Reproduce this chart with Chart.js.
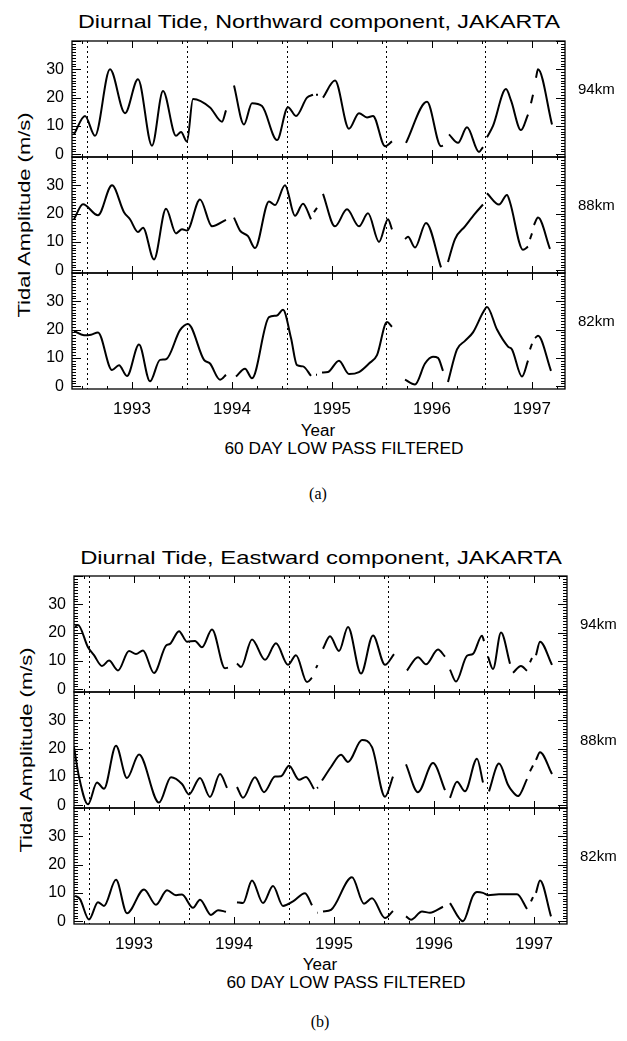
<!DOCTYPE html>
<html>
<head>
<meta charset="utf-8">
<script src="https://cdn.jsdelivr.net/npm/chart.js@4.4.0/dist/chart.umd.min.js"></script>
<style>
body { margin: 0; background: #fff; width: 627px; height: 1041px; position: relative; overflow: hidden;
       font-family: "Liberation Sans", Arial, sans-serif; color: #000; }
.t { position: absolute; white-space: nowrap; line-height: 1; }
canvas { position: absolute; }
</style>
</head>
<body>

<div class="t fit" data-x="319" data-y="21" data-w="482" style="font-size:19px">Diurnal Tide, Northward component, JAKARTA</div>
<div class="t fit rot" data-x="24" data-y="215" data-w="205" style="font-size:17px">Tidal Amplitude (m/s)</div>
<div class="t fit" data-x="318" data-y="431" data-w="34" style="font-size:16px">Year</div>
<div class="t fit" data-x="344" data-y="449" data-w="239" style="font-size:16px">60 DAY LOW PASS FILTERED</div>
<div class="t" data-x="318" data-y="494" style="font-size:16px;font-family:'Liberation Serif',serif">(a)</div>

<div class="t fit" data-x="321" data-y="557" data-w="482" style="font-size:19px">Diurnal Tide, Eastward component, JAKARTA</div>
<div class="t fit rot" data-x="26" data-y="750" data-w="205" style="font-size:17px">Tidal Amplitude (m/s)</div>
<div class="t fit" data-x="320" data-y="965" data-w="34" style="font-size:16px">Year</div>
<div class="t fit" data-x="346" data-y="983" data-w="239" style="font-size:16px">60 DAY LOW PASS FILTERED</div>
<div class="t" data-x="320" data-y="1022" style="font-size:16px;font-family:'Liberation Serif',serif">(b)</div>

<canvas id="n94"></canvas>
<canvas id="n88"></canvas>
<canvas id="n82"></canvas>
<canvas id="e94"></canvas>
<canvas id="e88"></canvas>
<canvas id="e82"></canvas>

<script>
// axis ranges and ticks
const xMin = 1992.40, xMax = 1997.33;
const yMin = -1, yMax = 40;
const yearTicks = [1993, 1994, 1995, 1996, 1997];
const ampTicks = [0, 10, 20, 30];
const markerYears = [1992.55, 1993.55, 1994.545, 1995.54, 1996.53];
const heightLabels = ['94km', '88km', '82km'];

// [year, amplitude m/s], null = data gap
const north94 = [[1992.42,7],[1992.53,13.5],[1992.63,6.5],[1992.78,30],[1992.93,14.5],[1993.06,26.5],[1993.2,3],
  [1993.31,22.3],[1993.44,6.5],[1993.49,7.8],[1993.55,4.5],[1993.61,19.5],[1993.78,16.5],[1993.9,11.5],[1993.94,15.5],null,
  [1994.02,24.3],[1994.12,10.5],[1994.2,18],[1994.3,17],[1994.45,5],[1994.56,16.6],[1994.64,13.5],[1994.75,20],[1994.81,21],null,
  [1994.84,21],[1994.86,21],null,
  [1994.91,20],[1995.03,26],[1995.17,9],[1995.27,14.5],[1995.35,13],[1995.41,13.5],[1995.53,2.8],[1995.6,4.5],null,
  [1995.74,4],[1995.95,18.5],[1996.09,2.8],[1996.11,3],null,
  [1996.17,7],[1996.26,4],[1996.35,9.5],[1996.47,0.8],[1996.51,2.5],null,
  [1996.55,6],[1996.61,10],[1996.74,23],[1996.79,19],[1996.89,8.5],[1996.96,14],null,
  [1996.99,18],[1997.01,21],null,
  [1997.04,27],[1997.06,30],[1997.2,10.5]];

const north88 = [[1992.42,18],[1992.51,23.3],[1992.66,19.4],[1992.8,30],[1992.92,20.5],[1992.98,18],[1993.06,13.5],
  [1993.11,15],[1993.22,3.8],[1993.34,21.7],[1993.44,13],[1993.5,14.5],[1993.55,14],[1993.68,25],[1993.8,15.5],[1993.94,17.8],null,
  [1994.02,18.6],[1994.08,14],[1994.16,12],[1994.23,7.8],[1994.37,24.3],[1994.43,23],[1994.53,30],[1994.63,19.2],[1994.71,23.5],[1994.79,18],null,
  [1994.82,20.5],[1994.85,22],null,
  [1994.91,27],[1995.03,15.5],[1995.15,21.5],[1995.27,15.5],[1995.36,20.1],[1995.47,10],[1995.56,18],[1995.6,14.4],null,
  [1995.73,11],[1995.76,11.8],[1995.83,8],[1995.94,16.7],[1996.09,1],null,
  [1996.16,2.9],[1996.23,11],[1996.33,15.5],[1996.43,20],[1996.51,23.2],null,
  [1996.55,27.2],[1996.67,23.2],[1996.75,26.6],[1996.78,24],[1996.91,7.2],[1996.96,8.3],null,
  [1996.98,11],[1997.0,13],null,
  [1997.02,16],[1997.06,18.6],[1997.18,7.5]];

const north82 = [[1992.42,19.5],[1992.52,18],[1992.59,18.2],[1992.66,19],[1992.8,5.7],[1992.87,7.4],[1992.95,3.6],
  [1993.07,14.7],[1993.18,1.7],[1993.28,9.3],[1993.34,9.5],[1993.48,19.8],[1993.56,22],[1993.72,9.3],[1993.78,8],[1993.88,2.3],[1993.94,4],null,
  [1994.04,3.4],[1994.13,6.2],[1994.2,2.8],[1994.37,24.4],[1994.45,25],[1994.51,27],[1994.59,17],[1994.65,7.4],[1994.71,7],[1994.79,3.6],null,
  [1994.84,4],[1994.85,4],null,
  [1994.9,4.8],[1994.96,5],[1995.07,9],[1995.17,4.3],[1995.27,5],[1995.37,8],[1995.45,11],[1995.55,22.7],[1995.6,21],null,
  [1995.73,2.3],[1995.83,0.6],[1995.93,8],[1996.01,10.4],[1996.06,10],[1996.11,5.4],null,
  [1996.16,1.5],[1996.25,13],[1996.33,16],[1996.41,19],[1996.51,26],[1996.55,28],[1996.65,20],[1996.76,14],[1996.8,13],[1996.9,3.4],[1996.96,9],null,
  [1996.98,13],[1997.0,15],null,
  [1997.03,17],[1997.06,17.8],[1997.19,5.4]];

const east94 = [[1992.41,22],[1992.44,22.7],[1992.54,14.8],[1992.6,12],[1992.68,8.2],[1992.75,10.1],[1992.84,6.6],
  [1992.95,13.5],[1993.02,12.4],[1993.09,13.7],[1993.2,5.7],[1993.32,15.4],[1993.36,16],[1993.45,20.5],[1993.53,16.8],
  [1993.61,17],[1993.68,14.8],[1993.78,21.1],[1993.91,7.4],[1993.94,7.6],null,
  [1994.03,9.1],[1994.07,7.8],[1994.18,17.6],[1994.31,10.4],[1994.42,16.2],[1994.54,8.6],[1994.62,12],[1994.73,2.5],[1994.78,4],null,
  [1994.82,7.5],[1994.835,8.5],null,
  [1994.89,14.3],[1994.96,18.7],[1995.05,13.5],[1995.14,22],[1995.27,5.5],[1995.39,19],[1995.51,8.6],[1995.6,12.4],null,
  [1995.73,6.6],[1995.84,11.3],[1995.92,8.8],[1996.04,14],[1996.11,11.5],null,
  [1996.16,6.9],[1996.22,2.7],[1996.33,11.8],[1996.39,12.5],[1996.48,18.9],[1996.5,17],null,
  [1996.54,11.5],[1996.59,7.1],[1996.67,20],[1996.76,9],null,
  [1996.79,5.8],[1996.87,8.2],[1996.93,6.5],null,
  [1996.96,9.5],[1996.98,11],null,
  [1997.02,12],[1997.06,16.8],[1997.18,8.6]];

const east88 = [[1992.4,20.5],[1992.45,10],[1992.54,0.3],[1992.63,8],[1992.7,5.8],[1992.82,21],[1992.93,9.6],
  [1993.05,17.9],[1993.25,0.9],[1993.37,9.9],[1993.48,7.5],[1993.55,3.8],[1993.66,9.6],[1993.76,2.9],[1993.86,11],[1993.93,6.1],null,
  [1994.03,6.4],[1994.09,2.6],[1994.21,9.9],[1994.3,4.6],[1994.41,10.1],[1994.47,10.2],[1994.55,13.9],[1994.65,9],[1994.72,10],[1994.8,5.7],null,
  [1994.83,6],[1994.84,6.3],null,
  [1994.88,8.7],[1994.97,13.5],[1995.07,17.8],[1995.14,15.3],[1995.28,23],[1995.38,20.5],[1995.51,3],[1995.59,10.1],null,
  [1995.72,14.4],[1995.84,4.6],[1995.99,14.9],[1996.11,5.3],null,
  [1996.16,2.6],[1996.23,8.3],[1996.31,4.9],[1996.43,16.4],[1996.49,8],null,
  [1996.55,4.9],[1996.65,14.7],[1996.74,7.2],[1996.77,5.5],[1996.84,3.2],[1996.93,9.2],null,
  [1996.96,12],[1996.99,14],null,
  [1997.02,16],[1997.06,18.7],[1997.18,11]];

const east82 = [[1992.41,9],[1992.46,7.8],[1992.55,0.6],[1992.64,6.7],[1992.7,5.4],[1992.82,14.6],[1992.93,2.8],
  [1993.1,11.2],[1993.22,5.8],[1993.33,10.9],[1993.42,9.2],[1993.48,9.4],[1993.59,4.7],[1993.66,7.6],[1993.77,2.2],[1993.84,3.9],[1993.92,3.3],null,
  [1994.03,6.7],[1994.09,6.4],[1994.18,14.4],[1994.29,6.4],[1994.39,12.4],[1994.49,5.4],[1994.59,7],[1994.71,9.9],[1994.78,5.6],null,
  [1994.83,3],[1994.835,3],null,
  [1994.89,3.4],[1994.97,4],[1995.18,15.5],[1995.3,6.2],[1995.38,8.1],[1995.51,1.1],[1995.59,3.6],null,
  [1995.72,1.7],[1995.77,0.5],[1995.88,3.4],[1995.96,3],[1996.09,5.1],null,
  [1996.16,6.4],[1996.29,0],[1996.39,9],[1996.43,10.3],[1996.49,10],[1996.54,9.2],[1996.65,9.5],[1996.83,9.5],[1996.93,4.3],null,
  [1996.97,7],[1996.99,8.5],null,
  [1997.02,10],[1997.06,14.4],[1997.17,1.7]];

function toPoints(series) {
  const pts = [];
  series.forEach(function (p, k) {
    if (p === null) pts.push({x: series[k - 1][0] + 0.001, y: null});
    else pts.push({x: p[0], y: p[1]});
  });
  return pts;
}

// frame, inward ticks, dotted year markers and labels (IDL style)
const panelFrame = {
  id: 'panelFrame',
  beforeDatasetsDraw(chart) {
    const ctx = chart.ctx, a = chart.chartArea, x = chart.scales.x;
    ctx.save();
    ctx.strokeStyle = '#000';
    ctx.lineWidth = 1;
    ctx.setLineDash([2, 3]);
    markerYears.forEach(function (v) {
      const px = Math.round(x.getPixelForValue(v)) + 0.5;
      ctx.beginPath();
      ctx.moveTo(px, a.top);
      ctx.lineTo(px, a.bottom);
      ctx.stroke();
    });
    ctx.restore();
  },
  afterDraw(chart, args, opts) {
    const ctx = chart.ctx, a = chart.chartArea, x = chart.scales.x, y = chart.scales.y;
    ctx.save();
    ctx.strokeStyle = '#000';
    ctx.lineWidth = 1.3;
    ctx.strokeRect(a.left, a.top, a.right - a.left, a.bottom - a.top);
    ctx.lineWidth = 1;
    ctx.beginPath();
    for (let v = 0; v <= yMax; v++) {
      const py = Math.round(y.getPixelForValue(v)) + 0.5;
      const len = v % 10 === 0 ? 9 : 4;
      ctx.moveTo(a.left, py); ctx.lineTo(a.left + len, py);
      ctx.moveTo(a.right, py); ctx.lineTo(a.right - len, py);
    }
    for (let q = 0; q < 20; q++) {
      const v = 1992.5 + q * 0.25;
      if (v > xMax) break;
      const px = Math.round(x.getPixelForValue(v)) + 0.5;
      const len = q % 4 === 2 ? 7 : 3;
      ctx.moveTo(px, a.top); ctx.lineTo(px, a.top + len);
      ctx.moveTo(px, a.bottom); ctx.lineTo(px, a.bottom - len);
    }
    ctx.stroke();

    ctx.fillStyle = '#000';
    ctx.textBaseline = 'middle';
    ctx.textAlign = 'right';
    ctx.font = '16px "Liberation Sans"';
    ampTicks.forEach(function (v) {
      ctx.fillText(String(v), a.left - 8, y.getPixelForValue(v));
    });
    ctx.textAlign = 'left';
    ctx.font = '15px "Liberation Sans"';
    ctx.fillText(opts.label, a.right + 13, a.top + 49);
    if (opts.years) {
      ctx.textAlign = 'center';
      ctx.font = '17px "Liberation Sans"';
      yearTicks.forEach(function (v) {
        ctx.fillText(String(v), x.getPixelForValue(v), a.bottom + 20);
      });
    }
    ctx.restore();
  }
};

function makePanel(id, series, label, left, top, showYears) {
  const pad = 12, extra = showYears ? 32 : 0;
  const el = document.getElementById(id);
  el.width = 627;
  el.height = 116 + 2 * pad + extra;
  el.style.top = (top - pad) + 'px';
  el.style.left = left + 'px';
  return new Chart(el, {
    type: 'line',
    data: {
      datasets: [{
        data: toPoints(series),
        borderColor: '#000',
        borderWidth: 2,
        pointRadius: 0,
        cubicInterpolationMode: 'monotone',
        spanGaps: false,
        fill: false
      }]
    },
    options: {
      responsive: false,
      animation: false,
      events: [],
      layout: { padding: { left: 72, right: 62, top: pad, bottom: pad + extra } },
      plugins: {
        legend: { display: false },
        tooltip: { enabled: false },
        panelFrame: { label: label, years: showYears }
      },
      scales: {
        x: { type: 'linear', min: xMin, max: xMax, display: false },
        y: { min: yMin, max: yMax, display: false }
      }
    },
    plugins: [panelFrame]
  });
}

makePanel('n94', north94, heightLabels[0], 0, 41, false);
makePanel('n88', north88, heightLabels[1], 0, 157, false);
makePanel('n82', north82, heightLabels[2], 0, 273, true);
makePanel('e94', east94, heightLabels[0], 2, 576, false);
makePanel('e88', east88, heightLabels[1], 2, 692, false);
makePanel('e82', east82, heightLabels[2], 2, 808, true);

// place and stretch the html texts
document.querySelectorAll('.t').forEach(function (el) {
  const w = el.offsetWidth;
  const k = el.classList.contains('fit') ? Number(el.dataset.w) / w : 1;
  el.style.left = el.dataset.x + 'px';
  el.style.top = el.dataset.y + 'px';
  const rot = el.classList.contains('rot') ? ' rotate(-90deg)' : '';
  el.style.transform = 'translate(-50%,-50%)' + rot + ' scaleX(' + k.toFixed(3) + ')';
});
</script>
</body>
</html>
